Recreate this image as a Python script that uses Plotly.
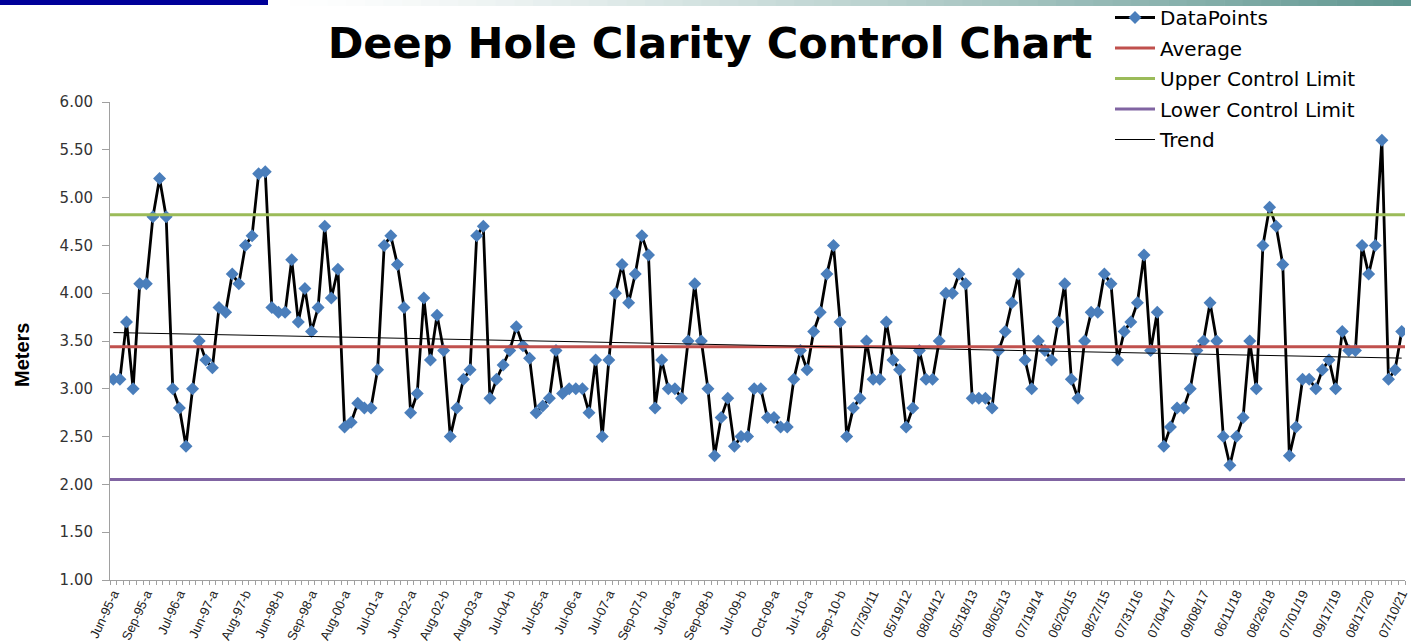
import numpy as np
import plotly.graph_objects as go

# ---- data ----
values = [
    3.10, 3.10, 3.70, 3.00, 4.10, 4.10, 4.80, 5.20, 4.80, 3.00,
    2.80, 2.40, 3.00, 3.50, 3.30, 3.22, 3.85, 3.80, 4.20, 4.10,
    4.50, 4.60, 5.25, 5.27, 3.85, 3.80, 3.80, 4.35, 3.70, 4.05,
    3.60, 3.85, 4.70, 3.95, 4.25, 2.60, 2.65, 2.85, 2.80, 2.80,
    3.20, 4.50, 4.60, 4.30, 3.85, 2.75, 2.95, 3.95, 3.30, 3.77,
    3.40, 2.50, 2.80, 3.10, 3.20, 4.60, 4.70, 2.90, 3.10, 3.25,
    3.40, 3.65, 3.45, 3.32, 2.75, 2.82, 2.90, 3.40, 2.95, 3.00,
    3.00, 3.00, 2.75, 3.30, 2.50, 3.30, 4.00, 4.30, 3.90, 4.20,
    4.60, 4.40, 2.80, 3.30, 3.00, 3.00, 2.90, 3.50, 4.10, 3.50,
    3.00, 2.30, 2.70, 2.90, 2.40, 2.50, 2.50, 3.00, 3.00, 2.70,
    2.70, 2.60, 2.60, 3.10, 3.40, 3.20, 3.60, 3.80, 4.20, 4.50,
    3.70, 2.50, 2.80, 2.90, 3.50, 3.10, 3.10, 3.70, 3.30, 3.20,
    2.60, 2.80, 3.40, 3.10, 3.10, 3.50, 4.00, 4.00, 4.20, 4.10,
    2.90, 2.90, 2.90, 2.80, 3.40, 3.60, 3.90, 4.20, 3.30, 3.00,
    3.50, 3.40, 3.30, 3.70, 4.10, 3.10, 2.90, 3.50, 3.80, 3.80,
    4.20, 4.10, 3.30, 3.60, 3.70, 3.90, 4.40, 3.40, 3.80, 2.40,
    2.60, 2.80, 2.80, 3.00, 3.40, 3.50, 3.90, 3.50, 2.50, 2.20,
    2.50, 2.70, 3.50, 3.00, 4.50, 4.90, 4.70, 4.30, 2.30, 2.60,
    3.10, 3.10, 3.00, 3.20, 3.30, 3.00, 3.60, 3.40, 3.40, 4.50,
    4.20, 4.50, 5.60, 3.10, 3.20, 3.60,
]

tick_labels = [
    "Jun-95-a", "Sep-95-a", "Jul-96-a", "Jun-97-a", "Aug-97-b", "Jun-98-b",
    "Sep-98-a", "Aug-00-a", "Jul-01-a", "Jun-02-a", "Aug-02-b", "Aug-03-a",
    "Jul-04-b", "Jul-05-a", "Jul-06-a", "Jul-07-a", "Sep-07-b", "Jul-08-a",
    "Sep-08-b", "Jul-09-b", "Oct-09-a", "Jul-10-a", "Sep-10-b", "07/30/11",
    "05/19/12", "08/04/12", "05/18/13", "08/05/13", "07/19/14", "06/20/15",
    "08/27/15", "07/31/16", "07/04/17", "09/08/17", "06/11/18", "08/26/18",
    "07/01/19", "09/17/19", "08/17/20", "07/10/21",
]
label_every = 5

AVERAGE = 3.44
UCL = 4.82
LCL = 2.05

# ---- derived ----
n = len(values)
idx = np.arange(n)
slope, intercept = np.polyfit(idx, np.array(values), 1)
trend = slope * idx + intercept
tickvals = list(range(0, n, label_every))[: len(tick_labels)]

W, H = 1411, 643
ML, MR, MT, MB = 110, 6, 102, 63
PW, PH = W - ML - MR, H - MT - MB


def px_x(p):
    return (p - ML) / PW


def px_y(p):
    return (H - MB - p) / PH


fig = go.Figure()
fig.add_trace(go.Scatter(
    x=idx, y=values, mode="lines+markers", name="DataPoints",
    line=dict(color="black", width=2.8),
    marker=dict(symbol="diamond", size=10, color="#4a7ebb"),
    legendgroup="a",
))
fig.add_trace(go.Scatter(
    x=[idx[0] - 0.5, idx[-1] + 0.5], y=[AVERAGE, AVERAGE], mode="lines",
    name="Average", line=dict(color="#c0504d", width=3), legendgroup="b",
))
fig.add_trace(go.Scatter(
    x=[idx[0] - 0.5, idx[-1] + 0.5], y=[UCL, UCL], mode="lines",
    name="Upper Control Limit", line=dict(color="#9bbb59", width=3), legendgroup="c",
))
fig.add_trace(go.Scatter(
    x=[idx[0] - 0.5, idx[-1] + 0.5], y=[LCL, LCL], mode="lines",
    name="Lower Control Limit", line=dict(color="#8064a2", width=3), legendgroup="d",
))
fig.add_trace(go.Scatter(
    x=idx, y=trend, mode="lines", name="Trend",
    line=dict(color="black", width=1), legendgroup="e",
))

# decorative header strip
shapes = [dict(type="rect", xref="paper", yref="paper", x0=px_x(0), x1=px_x(268),
               y0=px_y(0), y1=px_y(5), fillcolor="#000099", line_width=0, layer="above")]
nseg = 60
x_start, x_end = 290, 1411
c0 = np.array([255, 255, 255])
c1 = np.array([95, 150, 144])
for k in range(nseg):
    a = x_start + (x_end - x_start) * k / nseg
    b = x_start + (x_end - x_start) * (k + 1) / nseg
    t = (k + 0.5) / nseg
    c = (c0 + (c1 - c0) * t ** 1.3).astype(int)
    shapes.append(dict(type="rect", xref="paper", yref="paper",
                       x0=px_x(a), x1=px_x(b + 0.6), y0=px_y(0), y1=px_y(6),
                       fillcolor=f"rgb({c[0]},{c[1]},{c[2]})", line_width=0, layer="above"))

fig.update_layout(
    width=W, height=H,
    margin=dict(l=ML, r=MR, t=MT, b=MB, autoexpand=False),
    paper_bgcolor="white", plot_bgcolor="white",
    shapes=shapes,
    title=dict(text="<b>Deep Hole Clarity Control Chart</b>", x=710 / W, xanchor="center",
               y=1 - 43 / H, yanchor="middle",
               font=dict(family="DejaVu Sans", size=43, color="black")),
    legend=dict(x=px_x(1110), y=px_y(-2), xanchor="left", yanchor="top",
                bgcolor="rgba(0,0,0,0)", font=dict(family="DejaVu Sans", size=20, color="black"),
                itemwidth=40, tracegroupgap=1.5),
    annotations=[dict(text="<b>Meters</b>", xref="paper", yref="paper",
                      x=px_x(22), y=px_y(355), xanchor="center", yanchor="middle",
                      textangle=-90, showarrow=False,
                      font=dict(family="Liberation Sans Narrow, Liberation Sans", size=20,
                                color="black"))],
    xaxis=dict(
        range=[-0.5, n - 0.5], showgrid=False, zeroline=False,
        tickmode="array", tickvals=tickvals, ticktext=tick_labels,
        tickangle=-65, ticks="", showline=True, linecolor="#a0a0a0", linewidth=1,
        tickfont=dict(family="Liberation Sans Narrow, Liberation Sans", size=13, color="#222"),
        minor=dict(ticks="outside", dtick=1, tick0=-0.5, ticklen=4, tickcolor="#a0a0a0"),
    ),
    yaxis=dict(
        range=[1, 6], dtick=0.5, tick0=1, tickformat=".2f", showgrid=False, zeroline=False,
        showline=True, linecolor="#a0a0a0", linewidth=1, ticks="outside", ticklen=7,
        tickcolor="#a0a0a0", ticklabelstandoff=6,
        tickfont=dict(family="DejaVu Sans", size=15, color="#333"),
    ),
)

fig.write_html("out.html", config={"displayModeBar": False},
               post_script="document.body.style.margin='0';document.body.style.overflow='hidden';")
